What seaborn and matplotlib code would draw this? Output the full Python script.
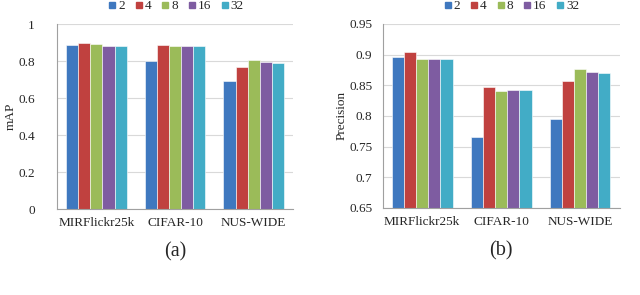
import pandas as pd
import seaborn as sns
import numpy as np
import matplotlib.pyplot as plt
from matplotlib.lines import Line2D

# datasets and code lengths
datasets = ['MIRFlickr25k', 'CIFAR-10', 'NUS-WIDE']
bits = ['2', '4', '8', '16', '32']

# mAP for each dataset, one value per code length
map_mir = [0.884, 0.897, 0.891, 0.883, 0.883]
map_cifar = [0.800, 0.888, 0.883, 0.882, 0.882]
map_nus = [0.693, 0.769, 0.805, 0.796, 0.790]

# precision for each dataset
prec_mir = [0.8955, 0.904, 0.893, 0.893, 0.892]
prec_cifar = [0.765, 0.847, 0.841, 0.843, 0.843]
prec_nus = [0.795, 0.857, 0.876, 0.872, 0.870]

colors = ['#3F78BF', '#C0413F', '#9BBB59', '#7E5CA1', '#42ACC6']

def make_df(a, b, c):
    rows = []
    for name, vals in zip(datasets, [a, b, c]):
        for bit, v in zip(bits, vals):
            rows.append({'dataset': name, 'bits': bit, 'value': v})
    return pd.DataFrame(rows)

df_map = make_df(map_mir, map_cifar, map_nus)
df_prec = make_df(prec_mir, prec_cifar, prec_nus)

sns.set_style('white')
plt.rcParams['font.family'] = ['Liberation Serif', 'DejaVu Serif']

fig = plt.figure(figsize=(6.4, 2.95), dpi=100)
ax1 = fig.add_axes([0.089, 0.2915, 0.369, 0.627])
ax2 = fig.add_axes([0.598, 0.295, 0.370, 0.624])

def draw(ax, df, ylabel, ylim, yticks, yticklabels, sub, ypad, lx):
    sns.barplot(data=df, x='dataset', y='value', hue='bits', palette=colors,
                width=0.77, edgecolor='white', linewidth=0.4, ax=ax,
                legend=False, saturation=1)
    ax.set_ylim(*ylim)
    ax.set_xlim(-0.5, 2.5)
    ax.set_yticks(yticks)
    ax.set_yticklabels(yticklabels, fontsize=9.5)
    ax.yaxis.grid(True, color='#D9D9D9', linewidth=0.8)
    ax.set_axisbelow(True)
    # category separators as ticks, labels at centers
    ax.set_xticks([-0.5, 0.5, 1.5, 2.5])
    ax.set_xticklabels([])
    ax.set_xticks([0, 1, 2], minor=True)
    ax.set_xticklabels(datasets, minor=True, fontsize=9.5)
    ax.tick_params(axis='x', which='minor', length=0, pad=6)
    ax.tick_params(axis='x', which='major', length=4, color='#A0A0A0', direction='out')
    ax.tick_params(axis='y', length=4, color='#A0A0A0', direction='out', pad=ypad)
    for s in ['top', 'right']:
        ax.spines[s].set_visible(False)
    for s in ['left', 'bottom']:
        ax.spines[s].set_color('#A0A0A0')
        ax.spines[s].set_linewidth(0.8)
    ax.set_xlabel(sub, fontsize=14.5, labelpad=9)
    ax.set_ylabel(ylabel, fontsize=9.5, labelpad=1)
    handles = [Line2D([], [], marker='s', linestyle='none', markersize=5,
                      markerfacecolor=c, markeredgecolor=c) for c in colors]
    ax.legend(handles, bits, ncol=5, frameon=False, loc='center',
              bbox_to_anchor=(lx, 1.097), fontsize=9.5, handletextpad=0.0,
              columnspacing=0.6, handlelength=0.9, borderaxespad=0)

draw(ax1, df_map, 'mAP', (0, 1), [0, 0.2, 0.4, 0.6, 0.8, 1],
     ['0', '0.2', '0.4', '0.6', '0.8', '1'], '(a)', 12, 0.5)
draw(ax2, df_prec, 'Precision', (0.65, 0.95),
     [0.65, 0.7, 0.75, 0.8, 0.85, 0.9, 0.95],
     ['0.65', '0.7', '0.75', '0.8', '0.85', '0.9', '0.95'], '(b)', 3.5, 0.54)

fig.savefig('out.png', dpi=100)
